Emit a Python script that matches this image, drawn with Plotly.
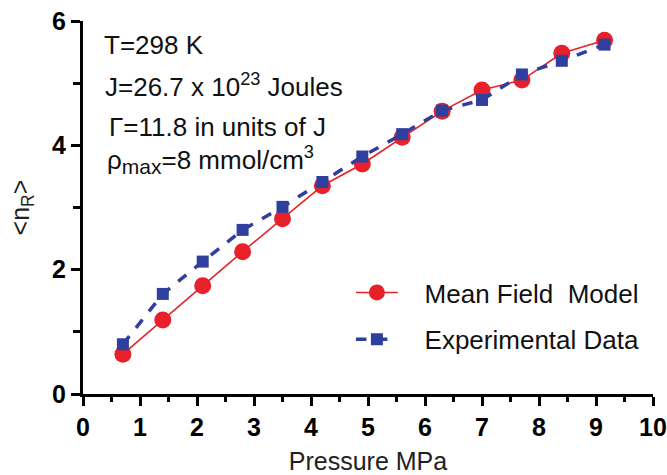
import plotly.graph_objects as go

pressure = [0.7, 1.4, 2.1, 2.8, 3.5, 4.2, 4.9, 5.6, 6.3, 7.0, 7.7, 8.4, 9.15]
mean_field = [0.64, 1.19, 1.74, 2.29, 2.82, 3.35, 3.70, 4.13, 4.55, 4.89, 5.05, 5.48, 5.69]
experimental = [0.80, 1.61, 2.13, 2.64, 3.01, 3.41, 3.82, 4.18, 4.56, 4.73, 5.14, 5.36, 5.62]

x_ticks = list(range(0, 11))
y_ticks = [0, 2, 4, 6]

FONT = "Liberation Sans, Arial, sans-serif"
PAD = "&nbsp;&nbsp;&nbsp;"

fig = go.Figure()
fig.add_trace(go.Scatter(
    x=pressure, y=mean_field, mode="lines+markers", name=PAD + "Mean Field&nbsp; Model",
    line=dict(color="#e8202a", width=1.6),
    marker=dict(symbol="circle", size=17, color="#e8202a"),
    legendgroup="a",
))
fig.add_trace(go.Scatter(
    x=pressure, y=experimental, mode="lines+markers", name=PAD + "Experimental Data",
    line=dict(color="#2e3f9e", width=3.5, dash="dash"),
    marker=dict(symbol="square", size=12, color="#2e3f9e"),
    legendgroup="b",
))

axis_common = dict(
    showline=True, linecolor="black", linewidth=3, showgrid=False, zeroline=False,
    ticks="outside", ticklen=9, tickwidth=2.5, tickcolor="black", automargin=False,
    tickfont=dict(family=FONT, size=25, color="black", weight="bold"),
    title_font=dict(family=FONT, size=25, color="#222"),
)

fig.update_xaxes(
    range=[0, 10], tickvals=x_ticks, ticktext=[str(v) for v in x_ticks],
    title_text="Pressure MPa", title_standoff=14,
    minor=dict(dtick=0.5, ticks="outside", ticklen=5, tickwidth=2.5, tickcolor="black"),
    **axis_common,
)
fig.update_yaxes(
    range=[0, 6], tickvals=y_ticks, ticktext=[str(v) for v in y_ticks],
    title_text="&lt;n<sub>R</sub>&gt;", title_standoff=16,
    minor=dict(dtick=1, ticks="outside", ticklen=7, tickwidth=2.5, tickcolor="black"),
    **axis_common,
)

annos = [
    (0.33, 5.61, "T=298 K"),
    (0.35, 4.97, "J=26.7 x 10<sup>23</sup> Joules"),
    (0.42, 4.29, "Γ=11.8 in units of J"),
    (0.38, 3.76, "ρ<sub><span style='font-size:21px'>max</span></sub>=8 mmol/cm<sup>3</sup>"),
]
for ax, ay, txt in annos:
    fig.add_annotation(x=ax, y=ay, xref="x", yref="y", text=txt, showarrow=False,
                       xanchor="left", yanchor="middle",
                       font=dict(family=FONT, size=26, color="#111"))

fig.update_layout(
    width=667, height=475,
    margin=dict(l=83, r=14, t=21, b=81),
    plot_bgcolor="white", paper_bgcolor="white",
    showlegend=True,
    legend=dict(x=0.47, y=0.335, xanchor="left", yanchor="top",
                font=dict(family=FONT, size=26, color="#111"),
                bgcolor="rgba(0,0,0,0)", traceorder="grouped", tracegroupgap=10,
                itemwidth=42),
)

fig.write_html("out.html")
